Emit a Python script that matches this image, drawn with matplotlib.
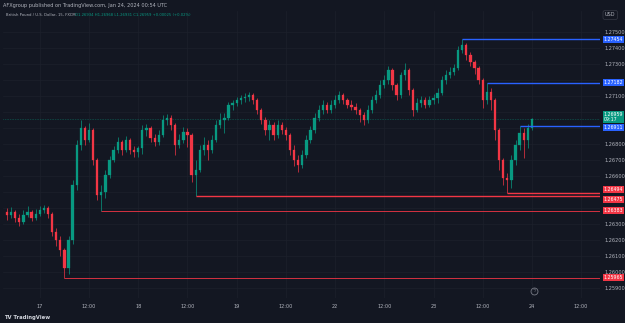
import matplotlib
matplotlib.use("Agg")
import matplotlib.pyplot as plt
from matplotlib.patches import Rectangle
import matplotlib.transforms as mtransforms

# hourly GBPUSD candles, Jan 16 16:00 -> Jan 24 00:00 (weekend collapsed)
open_first = 1.26375
closes = [1.26356, 1.26375, 1.26338, 1.26313, 1.26356, 1.26375, 1.26338, 1.26363, 1.26388, 1.26400,
          1.26363, 1.26250, 1.26200, 1.26138, 1.26025, 1.26200, 1.26544, 1.26794, 1.26900, 1.26825,
          1.26888, 1.26700, 1.26481, 1.26500, 1.26606, 1.26700, 1.26763, 1.26813, 1.26763, 1.26825,
          1.26763, 1.26750, 1.26775, 1.26888, 1.26900, 1.26838, 1.26813, 1.26856, 1.26950, 1.26963,
          1.26919, 1.26794, 1.26825, 1.26875, 1.26856, 1.26606, 1.26638, 1.26763, 1.26794, 1.26763,
          1.26825, 1.26919, 1.26950, 1.26963, 1.27044, 1.27056, 1.27075, 1.27088, 1.27094, 1.27106,
          1.27075, 1.27013, 1.26950, 1.26888, 1.26919, 1.26856, 1.26919, 1.26888, 1.26856, 1.26763,
          1.26700, 1.26669, 1.26731, 1.26825, 1.26888, 1.26963, 1.27013, 1.27044, 1.27013, 1.27044,
          1.27075, 1.27106, 1.27075, 1.27044, 1.27031, 1.27013, 1.26981, 1.26950, 1.27013, 1.27075,
          1.27106, 1.27169, 1.27200, 1.27263, 1.27169, 1.27106, 1.27231, 1.27263, 1.27138, 1.27013,
          1.27056, 1.27075, 1.27044, 1.27075, 1.27088, 1.27119, 1.27200, 1.27231, 1.27250, 1.27275,
          1.27388, 1.27419, 1.27356, 1.27313, 1.27275, 1.27200, 1.27075, 1.27125, 1.27075, 1.26888,
          1.26700, 1.26588, 1.26575, 1.26700, 1.26794, 1.26869, 1.26825, 1.26900, 1.26959]
highs = [1.26400, 1.26406, 1.26388, 1.26363, 1.26388, 1.26413, 1.26388, 1.26394, 1.26413, 1.26419,
         1.26413, 1.26375, 1.26275, 1.26225, 1.26150, 1.26225, 1.26575, 1.26825, 1.26950, 1.26913,
         1.26931, 1.26900, 1.26713, 1.26544, 1.26638, 1.26725, 1.26788, 1.26844, 1.26825, 1.26850,
         1.26838, 1.26788, 1.26788, 1.26919, 1.26925, 1.26913, 1.26863, 1.26888, 1.26981, 1.26988,
         1.26981, 1.26931, 1.26863, 1.26906, 1.26900, 1.26869, 1.26700, 1.26794, 1.26844, 1.26825,
         1.26856, 1.26950, 1.26994, 1.26994, 1.27063, 1.27075, 1.27094, 1.27106, 1.27119, 1.27125,
         1.27119, 1.27088, 1.27025, 1.26969, 1.26950, 1.26938, 1.26950, 1.26938, 1.26906, 1.26869,
         1.26794, 1.26731, 1.26763, 1.26856, 1.26913, 1.26994, 1.27044, 1.27075, 1.27063, 1.27075,
         1.27106, 1.27131, 1.27119, 1.27088, 1.27075, 1.27056, 1.27025, 1.27000, 1.27044, 1.27100,
         1.27138, 1.27200, 1.27231, 1.27288, 1.27275, 1.27181, 1.27250, 1.27306, 1.27275, 1.27150,
         1.27088, 1.27100, 1.27094, 1.27100, 1.27113, 1.27150, 1.27225, 1.27263, 1.27281, 1.27300,
         1.27413, 1.27454, 1.27431, 1.27375, 1.27325, 1.27288, 1.27213, 1.27182, 1.27150, 1.27088,
         1.26900, 1.26713, 1.26619, 1.26731, 1.26825, 1.26911, 1.26900, 1.26925, 1.26963]
lows = [1.26325, 1.26338, 1.26313, 1.26288, 1.26300, 1.26344, 1.26319, 1.26325, 1.26350, 1.26369,
        1.26338, 1.26225, 1.26163, 1.26100, 1.25965, 1.25988, 1.26175, 1.26513, 1.26763, 1.26794,
        1.26813, 1.26669, 1.26450, 1.26383, 1.26463, 1.26588, 1.26688, 1.26744, 1.26731, 1.26750,
        1.26738, 1.26719, 1.26719, 1.26738, 1.26850, 1.26813, 1.26788, 1.26794, 1.26844, 1.26919,
        1.26888, 1.26731, 1.26775, 1.26806, 1.26781, 1.26563, 1.26475, 1.26625, 1.26731, 1.26700,
        1.26744, 1.26813, 1.26900, 1.26869, 1.26950, 1.27013, 1.27038, 1.27050, 1.27063, 1.27069,
        1.27050, 1.26988, 1.26925, 1.26856, 1.26825, 1.26825, 1.26838, 1.26863, 1.26825, 1.26731,
        1.26663, 1.26625, 1.26650, 1.26713, 1.26806, 1.26869, 1.26944, 1.26988, 1.26994, 1.26994,
        1.27025, 1.27056, 1.27050, 1.27025, 1.27013, 1.26988, 1.26938, 1.26919, 1.26931, 1.26994,
        1.27056, 1.27088, 1.27150, 1.27175, 1.27138, 1.27075, 1.27088, 1.27200, 1.27106, 1.26975,
        1.27000, 1.27031, 1.27025, 1.27031, 1.27050, 1.27056, 1.27106, 1.27175, 1.27213, 1.27231,
        1.27263, 1.27369, 1.27325, 1.27288, 1.27238, 1.27175, 1.27025, 1.27050, 1.27013, 1.26825,
        1.26638, 1.26544, 1.26494, 1.26525, 1.26669, 1.26763, 1.26713, 1.26775, 1.26888]

# horizontal levels: price, start bar, kind, label nudge (so the tags do not collide)
level_prices = [1.27454, 1.27182, 1.26911, 1.26494, 1.26475, 1.26383, 1.25965]
level_starts = [111, 117, 125, 122, 46, 23, 14]
level_kinds = ["res", "res", "res", "sup", "sup", "sup", "sup"]
level_nudge = [0, 0, -0.00010, 0.00020, -0.00020, 0, 0]

price_ticks = [1.25900, 1.26000, 1.26100, 1.26200, 1.26300, 1.26400, 1.26500, 1.26600,
               1.26700, 1.26800, 1.26900, 1.27000, 1.27100, 1.27200, 1.27300, 1.27400, 1.27500]
time_ticks = [8, 20, 32, 44, 56, 68, 80, 92, 104, 116, 128, 140]
time_labels = ["17", "12:00", "18", "12:00", "19", "12:00", "22", "12:00", "23", "12:00", "24", "12:00"]

last_price = 1.26959
countdown = "09:17"

BG = "#131722"
UP = "#089981"
DOWN = "#f23645"
BLUE = "#2962ff"
TXT = "#b2b5be"
GRID = "#1c202b"

fig = plt.figure(figsize=(6.25, 3.23), dpi=100)
fig.patch.set_facecolor(BG)
W, H = 625, 323
ax = fig.add_axes([3 / W, 25 / H, 597 / W, 287 / H])
ax.set_facecolor(BG)
for s in ax.spines.values():
    s.set_visible(False)

opens = [open_first] + closes[:-1]
for i, (o, h, l, c) in enumerate(zip(opens, highs, lows, closes)):
    col = UP if c >= o else DOWN
    ax.vlines(i, l, h, color=col, lw=0.5, zorder=3)
    ax.add_patch(Rectangle((i - 0.28, min(o, c)), 0.56, max(abs(c - o), 0.00002),
                           facecolor=col, edgecolor=col, lw=0.2, zorder=3))

ax.set_xlim(-0.98, 144.6)
ax.set_ylim(1.25838, 1.27631)

# price labels hidden where a level tag sits on top of them
def covered(p):
    near_level = min(abs(p - q) for q in level_prices) <= 0.00025
    near_last = abs(p - last_price) <= 0.0005
    return near_level or near_last

ax.set_xticks(time_ticks)
ax.set_xticklabels(time_labels)
ax.set_yticks(price_ticks)
ax.set_yticklabels(["" if covered(p) else f"{p:.5f}" for p in price_ticks])
ax.yaxis.tick_right()
ax.tick_params(axis="both", length=0, colors=TXT, labelsize=3.6)
ax.tick_params(axis="y", pad=3)
ax.tick_params(axis="x", pad=4)
ax.grid(True, color=GRID, lw=0.5)
ax.set_axisbelow(True)

# level lines with price labels
trans = mtransforms.blended_transform_factory(ax.transAxes, ax.transData)
for p, st, kind, nd in zip(level_prices, level_starts, level_kinds, level_nudge):
    col = BLUE if kind == "res" else DOWN
    lw = 1.0 if st > 40 else 0.6
    ax.hlines(p, st, 144.6, color=col, lw=lw, zorder=4)
    ax.text(1.006, p + nd, f"{p:.5f}", transform=trans, fontsize=3.4, color="white",
            va="center", ha="left", clip_on=False, zorder=6,
            bbox=dict(boxstyle="square,pad=0.2", fc=col, ec="none"))

# last price marker
ax.axhline(last_price, color=UP, lw=0.4, ls=(0, (1, 2)), zorder=2)
ax.text(1.006, last_price + 0.00010, f"{last_price:.5f}\n{countdown}", transform=trans, fontsize=3.4,
        color="white", va="center", ha="left", clip_on=False, zorder=7, linespacing=1.0,
        bbox=dict(boxstyle="square,pad=0.2", fc=UP, ec="none"))

# currency box and event marker
fig.text(605 / W, 1 - 15 / H, "USD", fontsize=3.6, color=TXT, ha="left", va="center",
         bbox=dict(boxstyle="round,pad=0.4", fc=BG, ec="#363a45", lw=0.5))
bt = mtransforms.blended_transform_factory(ax.transData, ax.transAxes)
ax.plot([128.5], [0.025], transform=bt, marker="o", ms=5, mfc="none", mec="#787b86",
        mew=0.6, clip_on=False)
ax.text(128.5, 0.025, "ϟ", transform=bt, fontsize=3.5, color="#787b86", ha="center", va="center")

# header texts
fig.text(3 / W, 1 - 6 / H, "AFXgroup published on TradingView.com, Jan 24, 2024 00:54 UTC",
         fontsize=3.6, color=TXT, va="center")
fig.text(6 / W, 1 - 15 / H, "British Pound / U.S. Dollar, 15, FXCM", fontsize=2.7, color=TXT, va="center")
fig.text(75 / W, 1 - 15 / H, "O1.26934 H1.26968 L1.26931 C1.26959 +0.00025 (+0.02%)",
         fontsize=2.7, color=UP, va="center")

# footer
fig.text(4 / W, 5 / H, "TV TradingView", fontsize=3.8, color="#d1d4dc", va="center", weight="bold")

fig.savefig("out.png", dpi=100, facecolor=BG)
